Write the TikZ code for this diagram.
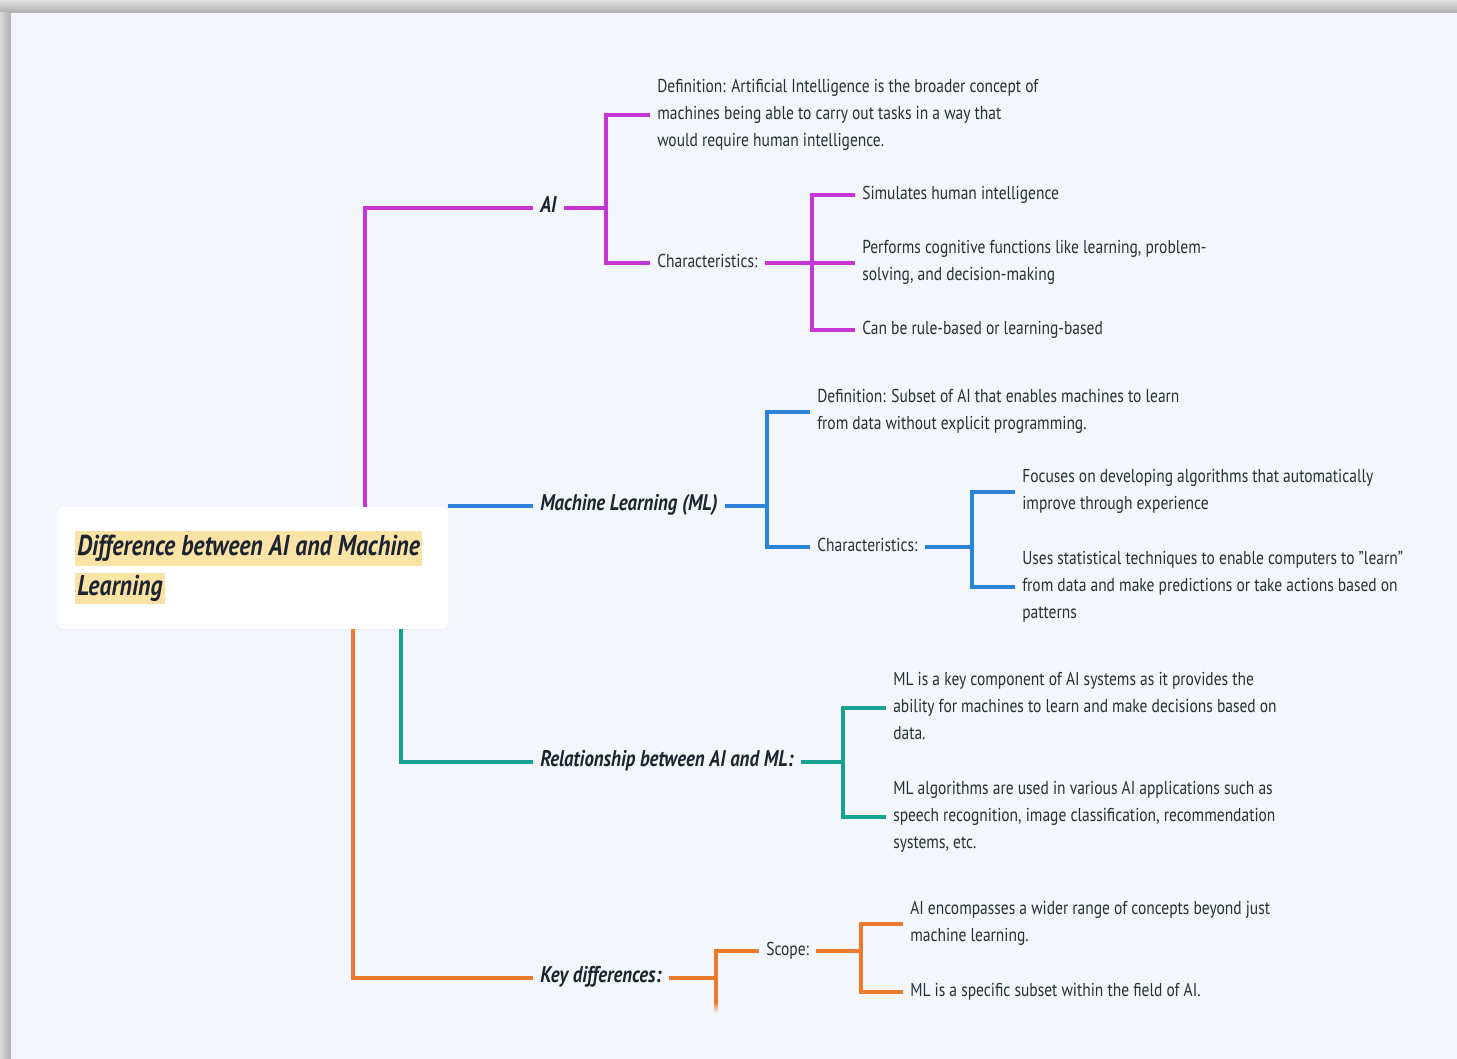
\documentclass[tikz,border=0pt]{standalone}
\usepackage{fontspec}
\setmainfont{PT Sans}[FakeStretch=0.83]
\usetikzlibrary{shadows}
\definecolor{bgc}{HTML}{F3F7FB}
\definecolor{mag}{HTML}{C436D6}
\definecolor{blu}{HTML}{2C84D8}
\definecolor{tea}{HTML}{17A391}
\definecolor{orn}{HTML}{EC7A2C}
\definecolor{txt}{HTML}{262E38}
\definecolor{lbl}{HTML}{1B2430}
\definecolor{hl}{HTML}{FBE3A6}
\newcommand\mystrut{\rule[-4.6pt]{0pt}{15.6pt}}
\newcommand\labstrut{\rule[-5pt]{0pt}{15.2pt}}
\begin{document}
\begin{tikzpicture}[x=0.75pt,y=-0.75pt,
  body/.style={anchor=west, align=left, inner xsep=5.25pt, inner ysep=1pt,
    font=\fontsize{14}{20.25}\selectfont, text=txt},
  lab/.style={anchor=west, inner xsep=5.25pt, inner ysep=1pt,
    font=\fontsize{17}{20}\selectfont\bfseries\itshape, text=lbl},
  ttl/.style={anchor=west, fill=hl, inner xsep=1.5pt, inner ysep=0pt,
    font=\fontsize{21.5}{24}\selectfont\bfseries\itshape, text=lbl},
  rootbox/.style={fill=white, rounded corners=4.5pt, minimum width=293.25pt,
    minimum height=91.5pt, inner sep=0pt,
    drop shadow={opacity=0.06, shadow xshift=0pt, shadow yshift=-1pt}},
  conn/.style={line width=3pt},
  lnmag/.style={conn, draw=mag}, lnblu/.style={conn, draw=blu},
  lntea/.style={conn, draw=tea}, lnorn/.style={conn, draw=orn}]
\useasboundingbox (0,0) rectangle (1457,1059);
% background and frame
\fill[black!20] (0,0) rectangle (1457,1059);
\shade[top color=black!12, bottom color=black!32] (0,0) rectangle (1457,13);
\shade[left color=black!14, right color=black!32] (0,13) rectangle (11,1059);
\fill[bgc] (11,13) rectangle (1457,1059);

% root
\node[rootbox] (root) at (252.5,568) {};
\node[ttl, minimum height=26.25pt] (t1) at (75,548.5) {Difference between AI and Machine};
\node[ttl, minimum height=23.25pt] (t2) at (75,588.5) {Learning};

% fork coordinates
\coordinate (xa) at (365,0);
\coordinate (xr) at (401,0);
\coordinate (xk) at (353,0);
\coordinate (fA) at (606,208);
\coordinate (fAC) at (812,263);
\coordinate (fM) at (767,506);
\coordinate (fMC) at (972,547);
\coordinate (fR) at (843,762);
\coordinate (fK) at (716,978);
\coordinate (kEnd) at (716,1002);
\coordinate (fS) at (861,951);

% AI branch
\node[lab] (ai) at (533,208) {\labstrut AI};
\node[body] (aidef) at (650,115) {\mystrut Definition: Artificial Intelligence is the broader concept of\\\mystrut machines being able to carry out tasks in a way that\\\mystrut would require human intelligence.};
\node[body] (aichar) at (650,263) {\mystrut Characteristics:};
\node[body] (ais1) at (855,195) {\mystrut Simulates human intelligence};
\node[body] (ais2) at (855,263) {\mystrut Performs cognitive functions like learning, problem-\\\mystrut solving, and decision-making};
\node[body] (ais3) at (855,330) {\mystrut Can be rule-based or learning-based};

% ML branch
\node[lab] (ml) at (533,506) {\labstrut Machine Learning (ML)};
\node[body] (mldef) at (810,412) {\mystrut Definition: Subset of AI that enables machines to learn\\\mystrut from data without explicit programming.};
\node[body] (mlchar) at (810,547) {\mystrut Characteristics:};
\node[body] (mls1) at (1015,492) {\mystrut Focuses on developing algorithms that automatically\\\mystrut improve through experience};
\node[body] (mls2) at (1015,587) {\mystrut Uses statistical techniques to enable computers to "learn"\\\mystrut from data and make predictions or take actions based on\\\mystrut patterns};

% Relationship branch
\node[lab] (rel) at (533,762) {\labstrut Relationship between AI and ML:};
\node[body] (rel1) at (886,708) {\mystrut ML is a key component of AI systems as it provides the\\\mystrut ability for machines to learn and make decisions based on\\\mystrut data.};
\node[body] (rel2) at (886,817) {\mystrut ML algorithms are used in various AI applications such as\\\mystrut speech recognition, image classification, recommendation\\\mystrut systems, etc.};

% Key differences branch
\node[lab] (key) at (533,978) {\labstrut Key differences:};
\node[body] (scope) at (759,951) {\mystrut Scope:};
\node[body] (sc1) at (903,924) {\mystrut AI encompasses a wider range of concepts beyond just\\\mystrut machine learning.};
\node[body] (sc2) at (903,992) {\mystrut ML is a specific subset within the field of AI.};

% connectors
\draw[lnmag] (root.north -| xa) |- (ai.west);
\draw[lnmag] (ai.east) -- (fA);
\draw[lnmag] (aidef.west) -| (fA) |- (aichar.west);
\draw[lnmag] (aichar.east) -- (ais2.west);
\draw[lnmag] (ais1.west) -| (fAC) |- (ais3.west);

\draw[lnblu] (root.east |- ml.west) -- (ml.west);
\draw[lnblu] (ml.east) -- (fM);
\draw[lnblu] (mldef.west) -| (fM) |- (mlchar.west);
\draw[lnblu] (mlchar.east) -- (fMC);
\draw[lnblu] (mls1.west) -| (fMC) |- (mls2.west);

\draw[lntea] (root.south -| xr) |- (rel.west);
\draw[lntea] (rel.east) -- (fR);
\draw[lntea] (rel1.west) -| (fR) |- (rel2.west);

\draw[lnorn] (root.south -| xk) |- (key.west);
\draw[lnorn] (key.east) -- (fK);
\draw[lnorn] (scope.west) -| (fK) -- (kEnd);
\shade[top color=orn, bottom color=bgc] (714,1002) rectangle (718,1013);
\draw[lnorn] (scope.east) -- (fS);
\draw[lnorn] (sc1.west) -| (fS) |- (sc2.west);
\end{tikzpicture}
\end{document}
